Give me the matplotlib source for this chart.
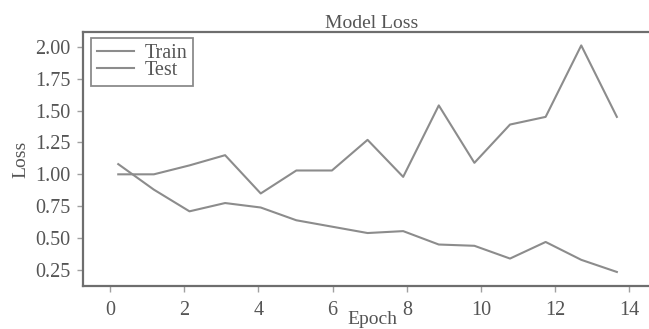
import matplotlib
matplotlib.use("Agg")
import matplotlib.pyplot as plt

epochs = [0.22, 1.18, 2.14, 3.10, 4.06, 5.02, 5.98, 6.94, 7.90, 8.86, 9.82, 10.78, 11.74, 12.70, 13.66]
train_loss = [1.08, 0.88, 0.71, 0.775, 0.74, 0.64, 0.59, 0.54, 0.555, 0.45, 0.44, 0.34, 0.47, 0.33, 0.235]
test_loss = [1.00, 1.00, 1.07, 1.15, 0.85, 1.03, 1.03, 1.27, 0.98, 1.54, 1.09, 1.39, 1.45, 2.01, 1.45]
x_ticks = [0, 2, 4, 6, 8, 10, 12, 14]
y_ticks = [0.25, 0.50, 0.75, 1.00, 1.25, 1.50, 1.75, 2.00]

plt.rcParams['font.family'] = ['Liberation Serif', 'DejaVu Serif']
line_color = '#8c8c8c'
axis_color = '#6e6e6e'
text_color = '#555555'

fig = plt.figure(figsize=(6.49, 3.29), dpi=100)
ax = fig.add_axes([0.1279, 0.1307, 0.8906, 0.772])

ax.plot(epochs, train_loss, color=line_color, lw=1.5, label='Train')
ax.plot(epochs, test_loss, color=line_color, lw=1.5, label='Test')

ax.set_xlim(-0.73, 14.85)
ax.set_ylim(0.125, 2.115)
ax.set_xticks(x_ticks)
ax.set_yticks(y_ticks)
ax.set_yticklabels([f"{v:.2f}" for v in y_ticks])

for s in ax.spines.values():
    s.set_color(axis_color)
    s.set_linewidth(1.6)

ax.tick_params(axis='both', colors='#a0a0a0', labelcolor=text_color,
               labelsize=14.5, length=4, width=1)
ax.tick_params(axis='y', pad=5)
ax.tick_params(axis='x', pad=7)

ax.set_title('Model Loss', fontsize=14, color=text_color, pad=3)
ax.set_xlabel('Epoch', fontsize=14, color=text_color, labelpad=-6.5)
ax.set_ylabel('Loss', fontsize=14, color=text_color, labelpad=4)

leg = ax.legend(loc='upper left', bbox_to_anchor=(0.0138, 0.976),
                fontsize=14.5, frameon=True, fancybox=False,
                borderpad=0.3, labelspacing=-0.1, handlelength=1.85,
                handletextpad=0.5, borderaxespad=0.0)
leg.get_frame().set_edgecolor(axis_color)
leg.get_frame().set_linewidth(1.3)
for t in leg.get_texts():
    t.set_color(text_color)

fig.savefig('out.png', dpi=100)
